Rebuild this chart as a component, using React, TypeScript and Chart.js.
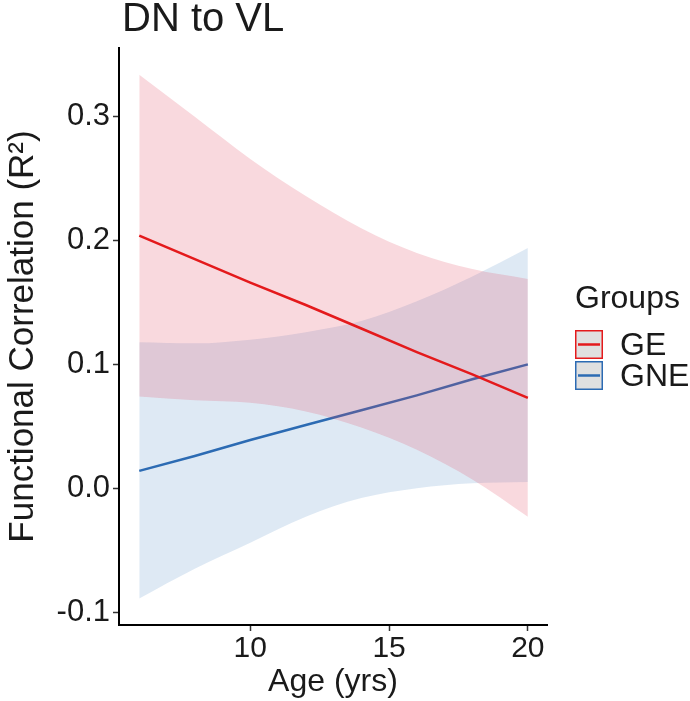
import React, { useEffect, useRef } from "react";
import { Chart, registerables } from "chart.js";

Chart.register(...registerables);

const chartTitle = "DN to VL";
const xTitle = "Age (yrs)";
const yTitle = "Functional Correlation (R²)";
const legendTitle = "Groups";
const groupNames = ["GE", "GNE"];

const ages = [6, 8, 10, 12, 14, 16, 18, 20];
const geFit = [0.204, 0.185, 0.166, 0.148, 0.129, 0.110, 0.092, 0.073];
const geUpper = [0.334, 0.300, 0.266, 0.236, 0.210, 0.190, 0.177, 0.169];
const geLower = [0.074, 0.071, 0.069, 0.062, 0.049, 0.031, 0.007, -0.023];
const gneFit = [0.014, 0.026, 0.039, 0.051, 0.063, 0.075, 0.088, 0.100];
const gneUpper = [0.118, 0.117, 0.120, 0.126, 0.135, 0.151, 0.171, 0.194];
const gneLower = [-0.089, -0.065, -0.044, -0.023, -0.008, 0.000, 0.004, 0.005];

const xTicks = [10, 15, 20];
const yTicks = [-0.1, 0.0, 0.1, 0.2, 0.3];
const yTickLabels = ["-0.1", "0.0", "0.1", "0.2", "0.3"];

const RED = "#E41A1C";
const BLUE = "#2C6BB3";
const RED_FILL = "rgba(225,65,90,0.2)";
const BLUE_FILL = "rgba(90,145,200,0.2)";
const FONT = "'Liberation Sans', Arial, sans-serif";

const pts = (ys: number[]) => ages.map((a, i) => ({ x: a, y: ys[i] }));

export default function App() {
  const ref = useRef<HTMLCanvasElement | null>(null);

  useEffect(() => {
    if (!ref.current) return;
    const legendPlugin = {
      id: "customText",
      afterDraw(chart: any) {
        const ctx = chart.ctx;
        const ca = chart.chartArea;
        ctx.save();
        // title
        ctx.fillStyle = "#1a1a1a";
        ctx.font = `40px ${FONT}`;
        ctx.textBaseline = "alphabetic";
        ctx.textAlign = "left";
        ctx.fillText(chartTitle, ca.left + 3, 31);
        // legend
        const lx = 575;
        ctx.font = `32px ${FONT}`;
        ctx.fillText(legendTitle, lx, 308);
        const colors = [RED, BLUE];
        groupNames.forEach((name, i) => {
          const by = 330 + i * 31;
          ctx.fillStyle = "#E0E0E0";
          ctx.fillRect(lx, by, 28, 29);
          ctx.strokeStyle = colors[i];
          ctx.lineWidth = 1.5;
          ctx.strokeRect(lx + 0.75, by + 0.75, 26.5, 27.5);
          ctx.beginPath();
          ctx.moveTo(lx + 3, by + 14.5);
          ctx.lineTo(lx + 25, by + 14.5);
          ctx.lineWidth = 2.5;
          ctx.stroke();
          ctx.fillStyle = "#1a1a1a";
          ctx.font = `32px ${FONT}`;
          ctx.textBaseline = "middle";
          ctx.fillText(name, 620, by + 16);
          ctx.textBaseline = "alphabetic";
        });
        ctx.restore();
      },
    };

    const chart = new Chart(ref.current, {
      type: "line",
      data: {
        datasets: [
          {
            label: "GE lower",
            data: pts(geLower),
            borderWidth: 0,
            pointRadius: 0,
            fill: "+1",
            backgroundColor: RED_FILL,
            cubicInterpolationMode: "monotone",
            order: 2,
          },
          {
            label: "GE upper",
            data: pts(geUpper),
            borderWidth: 0,
            pointRadius: 0,
            fill: false,
            cubicInterpolationMode: "monotone",
            order: 2,
          },
          {
            label: groupNames[0],
            data: pts(geFit),
            borderColor: RED,
            borderWidth: 2.5,
            pointRadius: 0,
            fill: false,
            order: 1,
          },
          {
            label: "GNE lower",
            data: pts(gneLower),
            borderWidth: 0,
            pointRadius: 0,
            fill: "+1",
            backgroundColor: BLUE_FILL,
            cubicInterpolationMode: "monotone",
            order: 4,
          },
          {
            label: "GNE upper",
            data: pts(gneUpper),
            borderWidth: 0,
            pointRadius: 0,
            fill: false,
            cubicInterpolationMode: "monotone",
            order: 4,
          },
          {
            label: groupNames[1],
            data: pts(gneFit),
            borderColor: BLUE,
            borderWidth: 2.5,
            pointRadius: 0,
            fill: false,
            order: 3,
          },
        ],
      },
      options: {
        animation: false,
        responsive: false,
        maintainAspectRatio: false,
        events: [],
        layout: { padding: { left: 0, top: 48, right: 143, bottom: 0 } },
        plugins: {
          legend: { display: false },
          title: { display: false },
          tooltip: { enabled: false },
          filler: { drawTime: "beforeDatasetDraw" },
        },
        scales: {
          x: {
            type: "linear",
            min: 5.27,
            max: 20.69,
            afterBuildTicks: (s: any) => {
              s.ticks = xTicks.map((v) => ({ value: v }));
            },
            afterFit: (s: any) => {
              s.height = 76;
            },
            border: { display: true, color: "#000", width: 2 },
            grid: {
              display: true,
              drawOnChartArea: false,
              drawTicks: true,
              tickLength: 6,
              tickWidth: 1.5,
              color: "#333",
            },
            ticks: {
              color: "#1a1a1a",
              font: { family: FONT, size: 30 },
              padding: 0,
              maxRotation: 0,
            },
            title: {
              display: true,
              text: xTitle,
              color: "#1a1a1a",
              font: { family: FONT, size: 32 },
              padding: { top: 0, bottom: 0 },
            },
          },
          y: {
            type: "linear",
            min: -0.1105,
            max: 0.3556,
            afterBuildTicks: (s: any) => {
              s.ticks = yTicks.map((v) => ({ value: v }));
            },
            afterFit: (s: any) => {
              s.width = 119;
            },
            border: { display: true, color: "#000", width: 2 },
            grid: {
              display: true,
              drawOnChartArea: false,
              drawTicks: true,
              tickLength: 6,
              tickWidth: 1.5,
              color: "#333",
            },
            ticks: {
              color: "#1a1a1a",
              font: { family: FONT, size: 31 },
              padding: 3,
              callback: (v: any) => {
                const i = yTicks.findIndex((t) => Math.abs(t - Number(v)) < 1e-9);
                return i >= 0 ? yTickLabels[i] : "";
              },
            },
            title: {
              display: true,
              text: yTitle,
              color: "#1a1a1a",
              font: { family: FONT, size: 35 },
              padding: { top: 2, bottom: 0 },
            },
          },
        },
      },
      plugins: [legendPlugin],
    });
    return () => chart.destroy();
  }, []);

  return (
    <div style={{ position: "fixed", left: 0, top: 0, width: 690, height: 701, background: "#fff" }}>
      <canvas ref={ref} width={690} height={701} style={{ width: 690, height: 701, display: "block" }} />
    </div>
  );
}
